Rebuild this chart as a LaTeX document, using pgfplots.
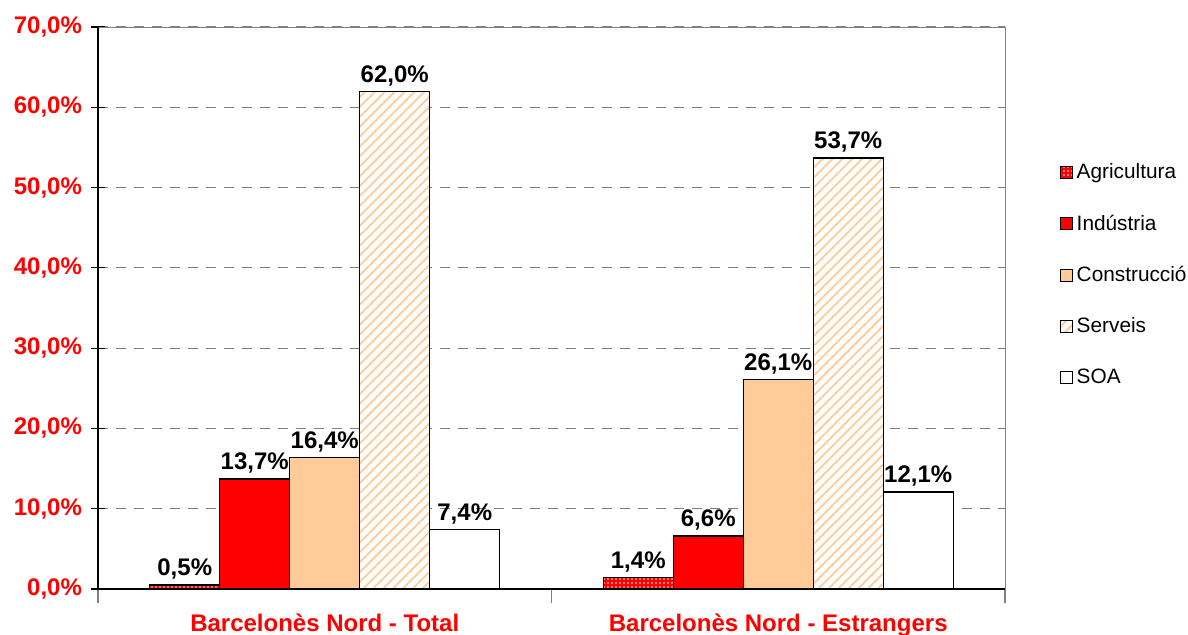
\documentclass[border=0pt]{standalone}
\usepackage{fontspec}
\setmainfont{Liberation Sans}
\usepackage{pgfplots}
\pgfplotsset{compat=1.18}
\usetikzlibrary{patterns.meta}
\definecolor{peach}{RGB}{255,204,153}
\definecolor{gridgray}{RGB}{128,128,128}
\begin{document}
\begin{tikzpicture}
\begin{axis}[
  name=ax,
  scale only axis,
  width=453.5pt, height=281pt,
  xmin=-0.5, xmax=1.5,
  ymin=0, ymax=70,
  ybar=0pt, bar width=35pt,
  /pgf/number format/assume math mode=true,
  axis line style={gridgray},
  ytick={0,10,...,70}, ytick pos=left, xtick pos=bottom,
  yticklabel={\pgfmathprintnumber[fixed,fixed zerofill,precision=1,use comma]{\tick}\%},
  yticklabel style={font=\fontsize{12}{14}\selectfont\bfseries, text=red, xshift=-1pt},
  ymajorgrids, grid style={gridgray, dash pattern=on 5pt off 4pt, line width=0.5pt},
  y tick style={black, line width=0.6pt}, tick align=center, major tick length=7pt,
  xtick={-0.5,0.5,1.5}, xticklabels={,,},
  x tick style={gridgray, line width=0.6pt, yshift=-3.5pt},
  extra x ticks={0,1},
  extra x tick labels={Barcelonès Nord - Total, Barcelonès Nord - Estrangers},
  extra x tick style={major tick length=0pt, grid=none, tick label style={font=\fontsize{12}{14}\selectfont\bfseries, text=red, yshift=-9pt}},
  nodes near coords={\pgfmathprintnumber[fixed,fixed zerofill,precision=1,use comma]{\pgfplotspointmeta}\%},
  every node near coord/.append style={font=\fontsize{12}{14}\selectfont\bfseries, text=black, yshift=-1pt},
  legend style={at={(rel axis cs:1.0597,0.765)}, anchor=north west, draw=none, fill=none,
    font=\fontsize{10.4}{12}\selectfont, row sep=12.6pt, inner sep=0pt},
  legend cell align=left,
  legend image code/.code={\draw[#1,draw=black,line width=0.6pt] (-1pt,-3pt) rectangle (5pt,3pt);},
  every axis plot/.append style={draw=black, line width=0.7pt},
  after end axis/.code={
    \draw[black,line width=0.7pt] (rel axis cs:0,0) -- (rel axis cs:0,1);
    \draw[black,line width=0.7pt] (rel axis cs:0,0) -- (rel axis cs:1,0);
  },
]
\addplot[bar shift=-70pt, fill=red, postaction={pattern={Dots[distance=2pt,radius=0.45pt]}, pattern color=white}] coordinates {(0,0.5) (1,1.4)};
\addplot[bar shift=-35pt, fill=red] coordinates {(0,13.7) (1,6.6)};
\addplot[bar shift=0pt, fill=peach] coordinates {(0,16.4) (1,26.1)};
\addplot[bar shift=35pt, fill=white, postaction={pattern={Lines[angle=45,distance=3.5pt,line width=0.9pt]}, pattern color=peach}] coordinates {(0,62.0) (1,53.7)};
\addplot[bar shift=70pt, fill=white] coordinates {(0,7.4) (1,12.1)};
\legend{Agricultura, Indústria, Construcció, Serveis, SOA}
\end{axis}
\pgfresetboundingbox
\path ([xshift=-49pt,yshift=-23pt]ax.south west) rectangle ([xshift=91.5pt,yshift=13.5pt]ax.north east);
\end{tikzpicture}
\end{document}
